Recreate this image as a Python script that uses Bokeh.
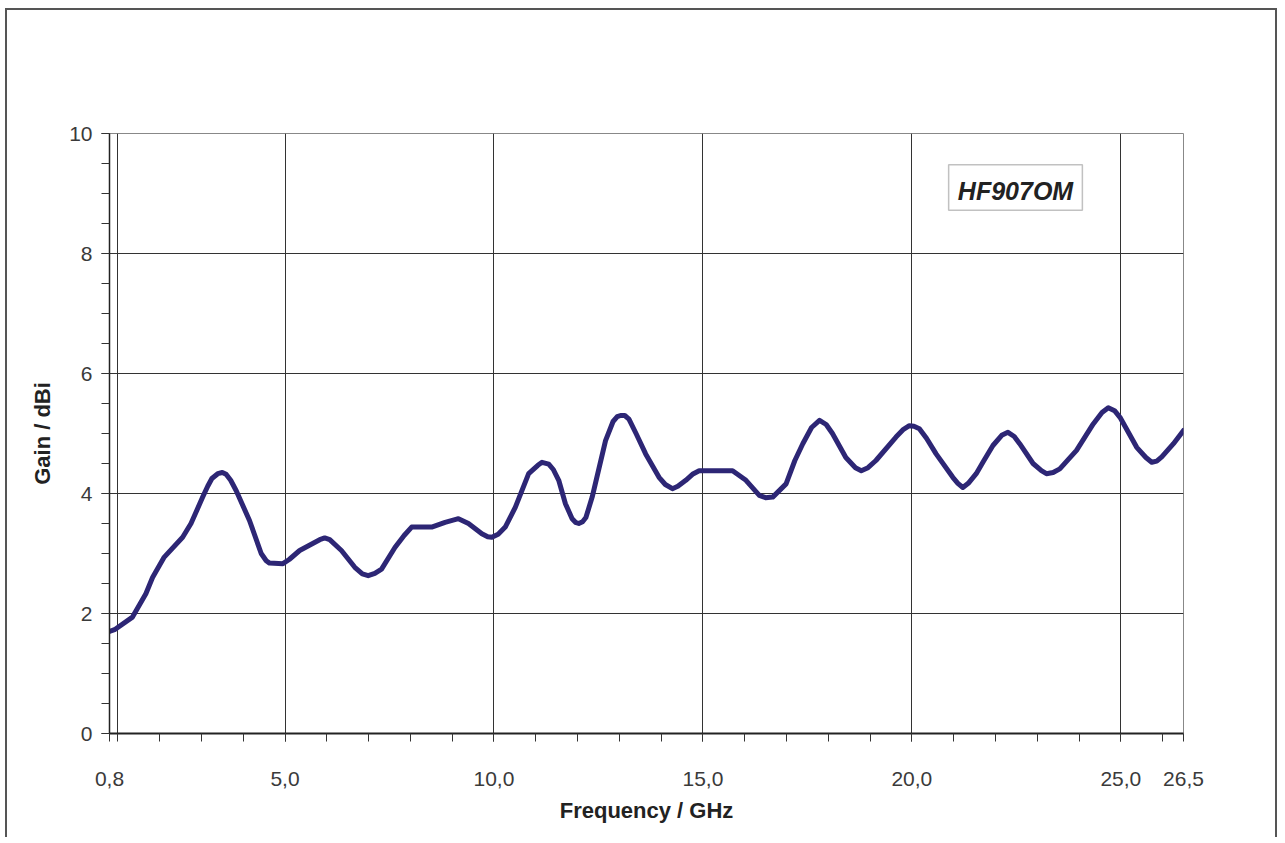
from bokeh.plotting import figure
from bokeh.models import FixedTicker, Range1d, Label, BoxAnnotation
from bokeh.embed import file_html
from bokeh.resources import INLINE

# ---- data ----
freq = [0.8, 0.92, 1.35, 1.67, 1.83, 2.11, 2.55, 2.75, 3.03, 3.15, 3.25, 3.39, 3.5, 3.59, 3.7, 3.83,
        4.15, 4.43, 4.55, 4.63, 4.95, 5.1, 5.35, 5.83, 5.95, 6.07, 6.35, 6.67, 6.85, 6.99, 7.15, 7.31, 7.63,
        7.85, 8.03, 8.51, 8.83, 9.15, 9.39, 9.71, 9.85, 9.95, 10.1, 10.27, 10.51, 10.83, 11.05, 11.15, 11.31,
        11.42, 11.55, 11.71, 11.87, 11.95, 12.03, 12.12, 12.2, 12.35, 12.67, 12.85, 12.95, 13.03, 13.13, 13.23,
        13.4, 13.63, 13.95, 14.1, 14.27, 14.4, 14.59, 14.75, 14.91, 15.71, 16.03, 16.35, 16.5, 16.67, 16.99,
        17.2, 17.39, 17.6, 17.79, 17.95, 18.1, 18.42, 18.65, 18.79, 18.95, 19.14, 19.62, 19.8, 19.94, 20.05,
        20.18, 20.35, 20.58, 20.98, 21.1, 21.22, 21.35, 21.54, 21.7, 21.94, 22.15, 22.3, 22.45, 22.58, 22.9,
        23.1, 23.22, 23.38, 23.54, 23.94, 24.34, 24.55, 24.7, 24.85, 24.98, 25.38, 25.6, 25.74, 25.86, 25.98,
        26.26, 26.5]
gain = [1.70, 1.73, 1.94, 2.33, 2.60, 2.94, 3.27, 3.50, 3.94, 4.12, 4.25, 4.33, 4.35, 4.32, 4.22, 4.05,
        3.55, 3.00, 2.88, 2.84, 2.83, 2.90, 3.05, 3.23, 3.26, 3.23, 3.05, 2.77, 2.66, 2.63, 2.67, 2.74, 3.10,
        3.30, 3.44, 3.44, 3.52, 3.58, 3.50, 3.33, 3.28, 3.27, 3.32, 3.44, 3.77, 4.33, 4.47, 4.52, 4.49,
        4.40, 4.22, 3.83, 3.58, 3.52, 3.50, 3.53, 3.60, 3.94, 4.88, 5.20, 5.28, 5.30, 5.30, 5.24,
        5.00, 4.66, 4.27, 4.15, 4.08, 4.12, 4.22, 4.32, 4.38, 4.38, 4.22, 3.97, 3.93, 3.94, 4.16,
        4.55, 4.83, 5.10, 5.22, 5.15, 5.00, 4.60, 4.43, 4.38, 4.43, 4.55, 4.94, 5.07, 5.13, 5.12,
        5.08, 4.92, 4.66, 4.27, 4.17, 4.10, 4.17, 4.33, 4.52, 4.80, 4.97, 5.02, 4.95, 4.83, 4.50,
        4.38, 4.33, 4.35, 4.41, 4.72, 5.16, 5.35, 5.43, 5.38, 5.27, 4.77, 4.60, 4.52, 4.54, 4.61,
        4.83, 5.05]

xtick_vals = [0.8, 5, 10, 15, 20, 25, 26.5]
xtick_labels = ["0,8", "5,0", "10,0", "15,0", "20,0", "25,0", "26,5"]
xminor_vals = list(range(1, 27))
xgrid_vals = [1, 5, 10, 15, 20, 25]
ytick_vals = [0, 2, 4, 6, 8, 10]
ytick_labels = ["0", "2", "4", "6", "8", "10"]
yminor_vals = [i * 0.5 for i in range(21)]
model_name = "HF907OM"
x_label = "Frequency / GHz"
y_label = "Gain / dBi"

p = figure(width=1272, height=829,
           x_range=Range1d(0.8, 26.5), y_range=Range1d(0, 10),
           output_backend="svg", toolbar_location=None,
           min_border_left=102, min_border_right=96,
           min_border_top=123, min_border_bottom=106)
p.styles = {"border": "2px solid #555", "border-bottom": "none",
            "margin-left": "5px", "margin-top": "8px"}
p.background_fill_color = "white"
p.border_fill_color = "white"
p.outline_line_color = "#888888"
p.outline_line_width = 1

p.line(freq, gain, line_color="#2d2675", line_width=5, line_join="round", line_cap="round")

# axes
p.xaxis.ticker = FixedTicker(ticks=xtick_vals, minor_ticks=xminor_vals)
p.xaxis.major_label_overrides = dict(zip(xtick_vals, xtick_labels))
p.yaxis.ticker = FixedTicker(ticks=ytick_vals, minor_ticks=yminor_vals)
p.yaxis.major_label_overrides = dict(zip(ytick_vals, ytick_labels))

for ax in (p.xaxis, p.yaxis):
    ax.axis_line_color = "#222222"
    ax.major_tick_line_color = "#333333"
    ax.minor_tick_line_color = "#333333"
    ax.major_tick_in = 0
    ax.major_tick_out = 8
    ax.minor_tick_in = 0
    ax.minor_tick_out = 8
    ax.major_label_text_font = "Liberation Sans"
    ax.major_label_text_font_size = "21px"
    ax.major_label_text_color = "#3a3a3a"
    ax.axis_label_text_font = "Liberation Sans"
    ax.axis_label_text_font_size = "22px"
    ax.axis_label_text_font_style = "bold"
    ax.axis_label_text_color = "#222222"

p.xaxis.axis_line_width = 2
p.yaxis.axis_line_width = 1.5
p.xaxis.major_label_standoff = 30
p.yaxis.major_label_standoff = 9
p.xaxis.axis_label = x_label
p.yaxis.axis_label = y_label
p.xaxis.axis_label_standoff = 9
p.yaxis.axis_label_standoff = 11

# grids
p.xgrid.ticker = FixedTicker(ticks=xgrid_vals)
p.ygrid.ticker = FixedTicker(ticks=ytick_vals)
for g in (p.xgrid, p.ygrid):
    g.grid_line_color = "#333333"
    g.grid_line_width = 1
    g.grid_line_alpha = 1

# model name box
box = BoxAnnotation(left=20.88, right=24.08, top=9.48, bottom=8.72,
                    fill_color="white", fill_alpha=1,
                    line_color="#333333", line_width=1.5)
p.add_layout(box)
lbl = Label(x=22.48, y=9.05, text=model_name, text_align="center",
            text_baseline="middle", text_font="Liberation Sans",
            text_font_size="25px", text_font_style="bold italic",
            text_color="#222222")
p.add_layout(lbl)

open("out.html", "w").write(file_html(p, INLINE))
